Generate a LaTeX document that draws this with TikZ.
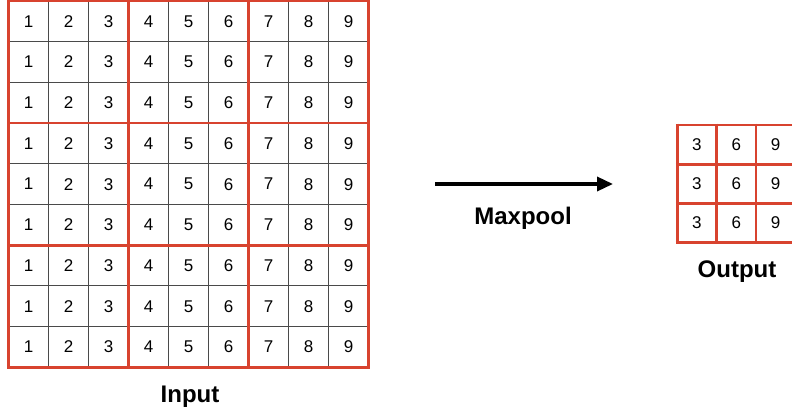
\documentclass[tikz,border=0pt]{standalone}
\usepackage{fontspec}
\setmainfont{Liberation Sans}
\usetikzlibrary{arrows.meta}
\definecolor{gridred}{HTML}{D8432F}
\definecolor{thingray}{HTML}{4A4A4A}
\tikzset{
  thinline/.style={draw=thingray, line width=1pt},
  redline/.style={draw=gridred, line width=2.8pt},
  num/.style={inner sep=0pt, font=\fontsize{17}{17}\selectfont},
  label/.style={inner sep=0pt, font=\fontsize{24}{24}\selectfont\bfseries},
  bigarrow/.style={line width=3.4pt, -{Triangle[length=16pt,width=14pt]}}
}
\begin{document}
\begin{tikzpicture}[x=1pt,y=1pt]
\useasboundingbox (0,0) rectangle (792,418);
\begin{scope}
\clip (0,0) rectangle (792,418);
% ---------- input grid ----------
\def\ix{8.5}\def\iy{417}\def\iw{40}\def\ih{40.7}
\foreach \k in {1,2,4,5,7,8} {
  \draw[thinline] ({\ix+\k*\iw},\iy) -- ({\ix+\k*\iw},{\iy-9*\ih});
  \draw[thinline] (\ix,{\iy-\k*\ih}) -- ({\ix+9*\iw},{\iy-\k*\ih});
}
\foreach \k in {0,3,6,9} {
  \draw[redline] ({\ix+\k*\iw},{\iy+1.4}) -- ({\ix+\k*\iw},{\iy-9*\ih-1.4});
  \draw[redline] ({\ix-1.4},{\iy-\k*\ih}) -- ({\ix+9*\iw+1.4},{\iy-\k*\ih});
}
\foreach \r in {1,...,9} {
  \foreach \c in {1,...,9} {
    \node[num] (in-\r-\c) at ({\ix+(\c-0.5)*\iw},{\iy-(\r-0.5)*\ih}) {\c};
  }
}
% ---------- output grid ----------
\def\ox{677.3}\def\oy{293}\def\ow{39.3}\def\oh{39.2}
\foreach \k in {0,1,2,3} {
  \draw[redline] ({\ox+\k*\ow},{\oy+1.4}) -- ({\ox+\k*\ow},{\oy-3*\oh-1.4});
  \draw[redline] ({\ox-1.4},{\oy-\k*\oh}) -- ({\ox+3*\ow+1.4},{\oy-\k*\oh});
}
\foreach \r in {1,2,3} {
  \foreach \c/\v in {1/3,2/6,3/9} {
    \node[num] (out-\r-\c) at ({\ox+(\c-0.5)*\ow},{\oy-(\r-0.5)*\oh}) {\v};
  }
}
\end{scope}
% ---------- arrow and labels ----------
\coordinate (arrowstart) at (435,234);
\coordinate (arrowend) at (613,234);
\draw[bigarrow] (arrowstart) -- (arrowend);
\node[label] (maxpool) at (523,200) {Maxpool};
\node[label] (inputlabel) at (190,21) {Input};
\node[label] (outputlabel) at (737,146) {Output};
\end{tikzpicture}
\end{document}
